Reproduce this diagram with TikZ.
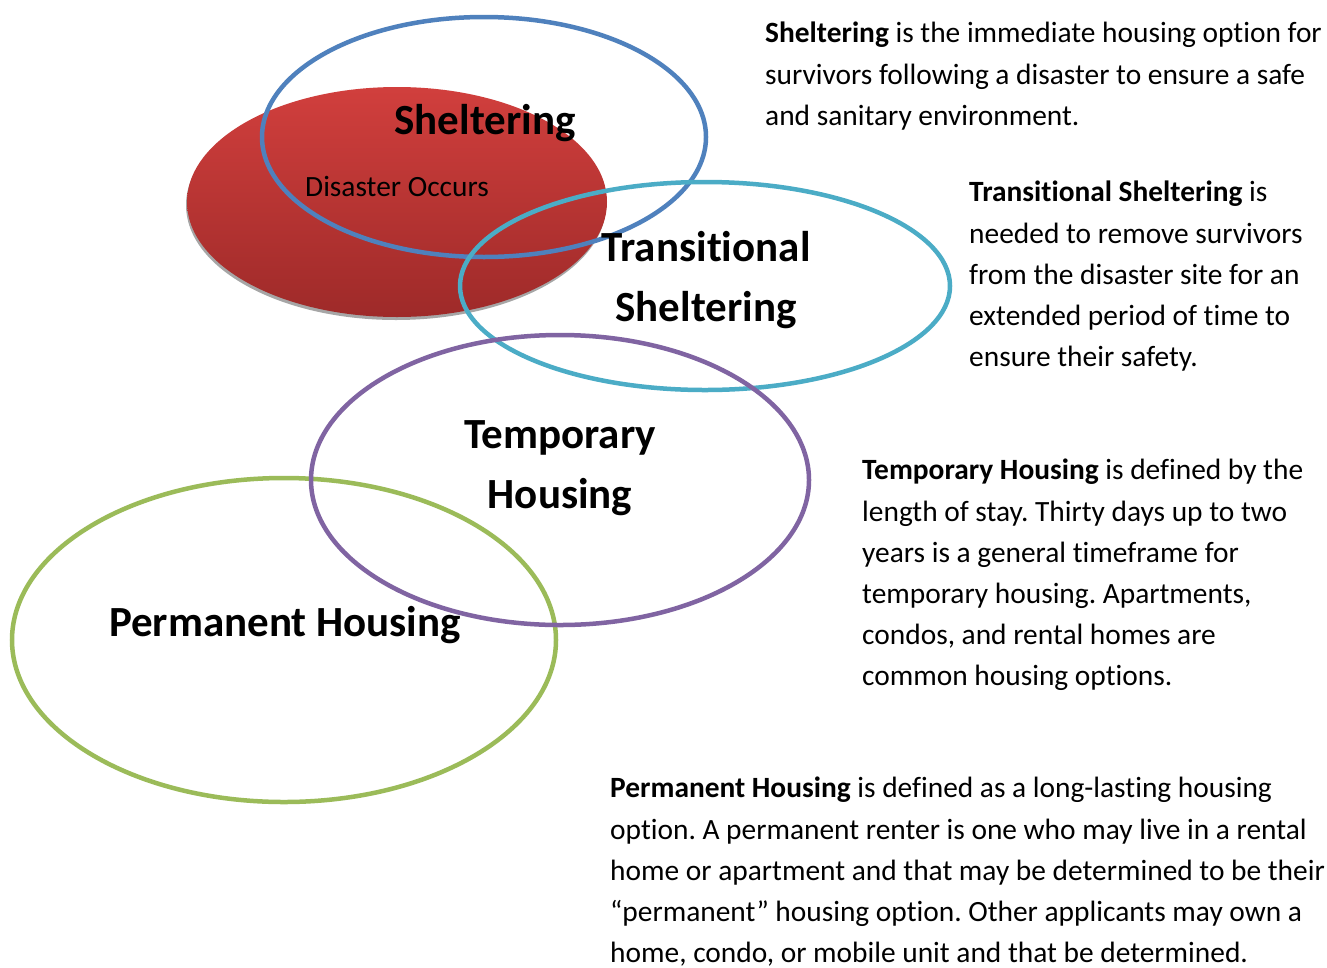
\documentclass[tikz,border=0pt]{standalone}
\usepackage{fontspec}
\setmainfont[Ligatures=NoCommon]{Carlito}
\usetikzlibrary{shapes.geometric}
\definecolor{redtop}{HTML}{D13F3D}
\definecolor{redbot}{HTML}{9E2A29}
\definecolor{cblue}{HTML}{4F81BD}
\definecolor{ccyan}{HTML}{4BACC6}
\definecolor{cpurple}{HTML}{8064A2}
\definecolor{cgreen}{HTML}{9BBB59}
\tikzset{
  biglabel/.style={font=\fontsize{43}{60}\selectfont\bfseries, align=center, inner sep=0pt},
  bodytext/.style={font=\fontsize{29.4}{41.2}\selectfont\frenchspacing, align=left, anchor=north west, inner sep=0pt}
}
\begin{document}
\begin{tikzpicture}[x=1pt,y=-1pt]
\useasboundingbox[fill=white] (0,0) rectangle (1327,967);
% red disc with shadow
\fill[gray!70] (396,205) ellipse [x radius=210, y radius=115];
\shade[top color=redtop, bottom color=redbot] (397,202) ellipse [x radius=210, y radius=115];
\node (disaster) at (397,186) {\fontsize{29.4}{32}\selectfont Disaster Occurs};
% rings
\draw[cblue, line width=4.5pt] (484,137) ellipse [x radius=222, y radius=120];
\draw[ccyan, line width=4.5pt] (705,286) ellipse [x radius=245, y radius=104];
\draw[cgreen, line width=4.5pt] (284,640) ellipse [x radius=272, y radius=162];
\draw[cpurple, line width=4.5pt] (560,480) ellipse [x radius=249, y radius=145];
% labels
\node[biglabel] (shel) at (485,123) {Sheltering};
\node[biglabel] (trans) at (706,280) {Transitional\\Sheltering};
\node[biglabel] (temp) at (560,468) {Temporary\\Housing};
\node[biglabel] (perm) at (285,625) {Permanent Housing};
% descriptions
\node[bodytext] (d1) at (765,22) {\textbf{Sheltering} is the immediate housing option for\\survivors following a disaster to ensure a safe\\and sanitary environment.};
\node[bodytext] (d2) at (969,181) {\textbf{Transitional Sheltering} is\\needed to remove survivors\\from the disaster site for an\\extended period of time to\\ensure their safety.};
\node[bodytext] (d3) at (862,459) {\textbf{Temporary Housing} is defined by the\\length of stay. Thirty days up to two\\years is a general timeframe for\\temporary housing. Apartments,\\condos, and rental homes are\\common housing options.};
\node[bodytext] (d4) at (610,777) {\textbf{Permanent Housing} is defined as a long-lasting housing\\option. A permanent renter is one who may live in a rental\\home or apartment and that may be determined to be their\\“permanent” housing option. Other applicants may own a\\home, condo, or mobile unit and that be determined.};
\end{tikzpicture}
\end{document}
